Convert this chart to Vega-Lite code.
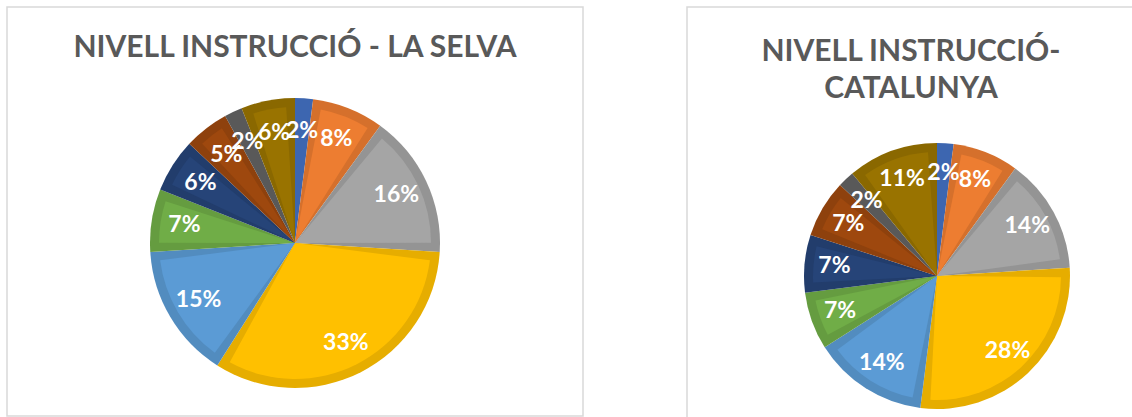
{
  "$schema": "https://vega.github.io/schema/vega-lite/v6.json",
  "background": "white",
  "padding": {"left": 6, "top": 6, "right": 0, "bottom": 0},
  "spacing": 102,
  "config": {
    "view": {"stroke": "#d9d9d9", "strokeWidth": 1.5},
    "title": {"font": "Lato", "fontSize": 30, "fontWeight": "bold", "color": "#595959", "anchor": "middle", "baseline": "top"}
  },
  "hconcat": [
    {
      "width": 576,
      "height": 409,
      "view": {"stroke": "#d9d9d9", "strokeWidth": 1.5, "fill": "white"},
      "title": {"text": "NIVELL INSTRUCCIÓ - LA SELVA", "offset": -56},
      "data": {"values": [
        {"ordre": 1, "valor": 2, "etiqueta": "2%"},
        {"ordre": 2, "valor": 8, "etiqueta": "8%"},
        {"ordre": 3, "valor": 16, "etiqueta": "16%"},
        {"ordre": 4, "valor": 33, "etiqueta": "33%"},
        {"ordre": 5, "valor": 15, "etiqueta": "15%"},
        {"ordre": 6, "valor": 7, "etiqueta": "7%"},
        {"ordre": 7, "valor": 6, "etiqueta": "6%"},
        {"ordre": 8, "valor": 5, "etiqueta": "5%"},
        {"ordre": 9, "valor": 2, "etiqueta": "2%"},
        {"ordre": 10, "valor": 6, "etiqueta": "6%"}
      ]},
      "encoding": {
        "theta": {"field": "valor", "type": "quantitative", "stack": true},
        "order": {"field": "ordre", "type": "quantitative"}
      },
      "layer": [
        {
          "mark": {"type": "arc", "outerRadius": 145, "y": 236},
          "encoding": {"color": {"field": "ordre", "type": "nominal", "legend": null,
            "scale": {"domain": [1,2,3,4,5,6,7,8,9,10], "range": ["#3D66B0","#D5702C","#949494","#E6AD00","#528CBF","#659C40","#223D6C","#8E410D","#595959","#8A6800"]}}}
        },
        {
          "mark": {"type": "arc", "outerRadius": 136, "padAngle": 0.13, "y": 236},
          "encoding": {"color": {"field": "ordre", "type": "nominal", "legend": null,
            "scale": {"domain": [1,2,3,4,5,6,7,8,9,10], "range": ["#4472C4","#ED7D31","#A5A5A5","#FFC000","#5B9BD5","#70AD47","#264478","#9E480E","#636363","#997300"]}}}
        },
        {
          "mark": {"type": "text", "radius": 112, "y": 236, "font": "Lato", "fontSize": 23, "fontWeight": "bold", "fill": "white"},
          "encoding": {"text": {"field": "etiqueta", "type": "nominal"}}
        }
      ],
      "resolve": {"scale": {"color": "independent"}}
    },
    {
      "width": 448,
      "height": 411,
      "view": {"stroke": "#d9d9d9", "strokeWidth": 1.5, "fill": "white"},
      "title": {"text": ["NIVELL INSTRUCCIÓ-", "CATALUNYA"], "offset": -97, "lineHeight": 37},
      "data": {"values": [
        {"ordre": 1, "valor": 2, "etiqueta": "2%"},
        {"ordre": 2, "valor": 8, "etiqueta": "8%"},
        {"ordre": 3, "valor": 14, "etiqueta": "14%"},
        {"ordre": 4, "valor": 28, "etiqueta": "28%"},
        {"ordre": 5, "valor": 14, "etiqueta": "14%"},
        {"ordre": 6, "valor": 7, "etiqueta": "7%"},
        {"ordre": 7, "valor": 7, "etiqueta": "7%"},
        {"ordre": 8, "valor": 7, "etiqueta": "7%"},
        {"ordre": 9, "valor": 2, "etiqueta": "2%"},
        {"ordre": 10, "valor": 11, "etiqueta": "11%"}
      ]},
      "encoding": {
        "theta": {"field": "valor", "type": "quantitative", "stack": true},
        "order": {"field": "ordre", "type": "quantitative"}
      },
      "layer": [
        {
          "mark": {"type": "arc", "outerRadius": 133, "x": 250, "y": 269},
          "encoding": {"color": {"field": "ordre", "type": "nominal", "legend": null,
            "scale": {"domain": [1,2,3,4,5,6,7,8,9,10], "range": ["#3D66B0","#D5702C","#949494","#E6AD00","#528CBF","#659C40","#223D6C","#8E410D","#595959","#8A6800"]}}}
        },
        {
          "mark": {"type": "arc", "outerRadius": 124, "padAngle": 0.145, "x": 250, "y": 269},
          "encoding": {"color": {"field": "ordre", "type": "nominal", "legend": null,
            "scale": {"domain": [1,2,3,4,5,6,7,8,9,10], "range": ["#4472C4","#ED7D31","#A5A5A5","#FFC000","#5B9BD5","#70AD47","#264478","#9E480E","#636363","#997300"]}}}
        },
        {
          "mark": {"type": "text", "radius": 103, "x": 250, "y": 269, "font": "Lato", "fontSize": 23, "fontWeight": "bold", "fill": "white"},
          "encoding": {"text": {"field": "etiqueta", "type": "nominal"}}
        }
      ],
      "resolve": {"scale": {"color": "independent"}}
    }
  ]
}
